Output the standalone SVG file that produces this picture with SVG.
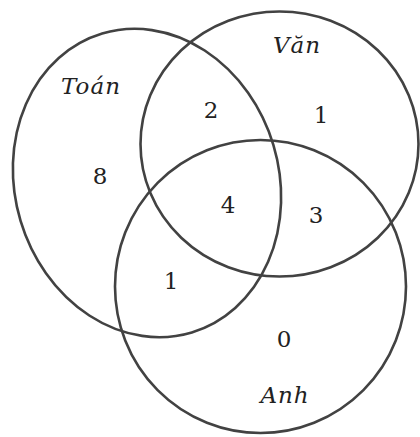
<svg xmlns="http://www.w3.org/2000/svg" width="420" height="437" viewBox="0 0 420 437">
<style>
.set{fill:none;stroke:#424242;stroke-width:2.6}
text{font-family:'DejaVu Serif','Liberation Serif',serif;font-size:23px;fill:#222;text-anchor:middle}
.lbl{font-style:italic;letter-spacing:1px}
</style>
<rect width="420" height="437" fill="#fff"/>
<g id="toan">
<ellipse class="set" cx="147" cy="183" rx="132" ry="156" transform="rotate(-16.7 147 183)"/>
<text class="lbl" x="91" y="94">Toán</text>
</g>
<g id="van">
<ellipse class="set" cx="279.5" cy="144" rx="139" ry="132.5"/>
<text class="lbl" x="297" y="53">Văn</text>
</g>
<g id="anh">
<ellipse class="set" cx="260.5" cy="286.5" rx="145.5" ry="146.5"/>
<text class="lbl" x="285" y="403">Anh</text>
</g>
<g id="counts">
<text x="100" y="184">8</text>
<text x="211" y="118">2</text>
<text x="321" y="123">1</text>
<text x="228" y="213">4</text>
<text x="316" y="223">3</text>
<text x="171" y="289">1</text>
<text x="284" y="347">0</text>
</g>
<g id="connectors"></g>
</svg>
